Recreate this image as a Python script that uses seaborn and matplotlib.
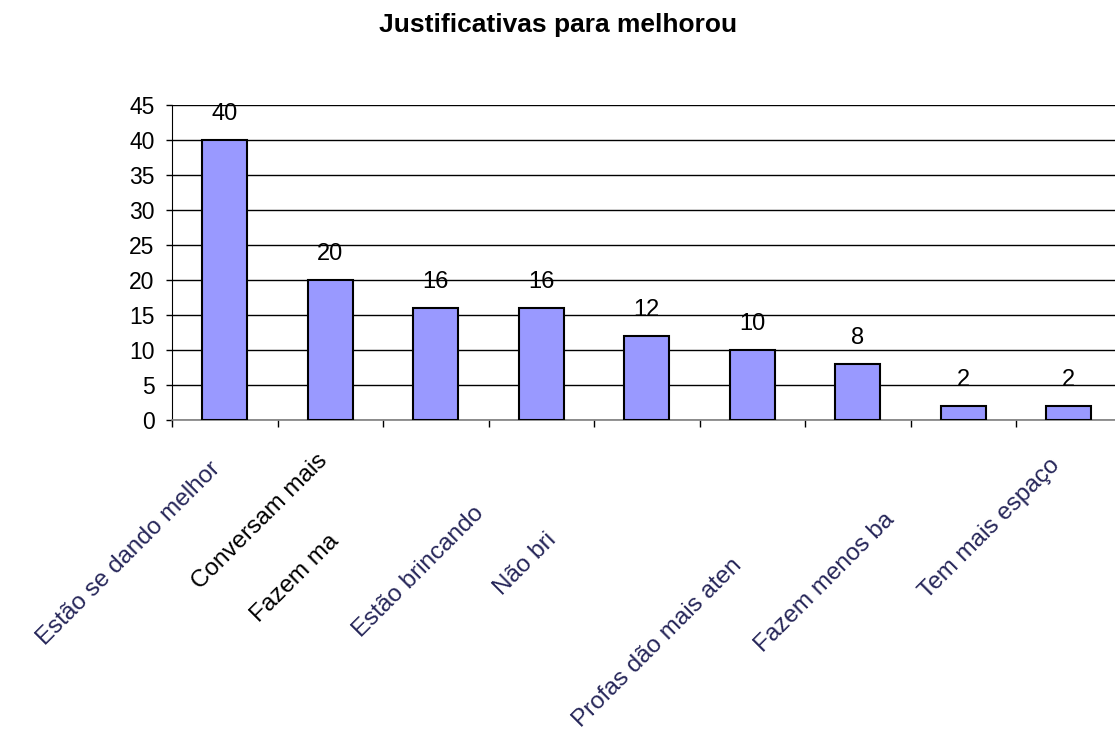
import pandas as pd
import seaborn as sns
import matplotlib.pyplot as plt
from matplotlib.transforms import ScaledTranslation

# dados do gráfico
categorias = ["Estão se dando melhor", "Conversam mais", "Fazem ma", "Estão brincando",
              "Não bri", "Profas dão mais aten", "Fazem menos ba", "Tem mais espaço", ""]
valores = [40, 20, 16, 16, 12, 10, 8, 2, 2]
titulo = "Justificativas para melhorou"

# deslocamento (px) do fim de cada rótulo do eixo x, como no original
desloc_x = [-8, -6, -100, -61, -94, -14, 33, 93, 0]
desloc_y = [46, 37, 118, 90, 117, 142, 96, 42, 0]
cores_rotulo = ["#262659", "black", "black", "#262659", "#262659",
                "#262659", "#262659", "#262659", "black"]


def desenhar():
    sns.set_style("white")
    plt.rcParams['font.family'] = ['Liberation Sans', 'DejaVu Sans']

    df = pd.DataFrame({"categoria": categorias, "valor": valores})

    fig = plt.figure(figsize=(11.15, 7.35), dpi=100)
    ax = fig.add_axes([172 / 1115, 1 - 420 / 735, 949.5 / 1115, 315 / 735])

    sns.barplot(data=df, x="categoria", y="valor", order=categorias, color="#9999FF",
                edgecolor="black", linewidth=1.5, width=0.43, saturation=1, ax=ax, zorder=3)

    ax.set_ylim(0, 45)
    ax.set_xlim(-0.5, len(categorias) - 0.5)
    ax.set_yticks(range(0, 46, 5))
    ax.yaxis.grid(True, color="black", linewidth=1)
    ax.set_axisbelow(True)
    ax.set_xlabel("")
    ax.set_ylabel("")

    for s in ["top", "right"]:
        ax.spines[s].set_visible(False)
    ax.spines["left"].set_color("black")
    ax.spines["bottom"].set_color("#808080")
    ax.spines["bottom"].set_linewidth(1.2)

    ax.tick_params(axis="y", direction="out", length=4.5, width=1, color="black",
                   labelsize=16.5, labelcolor="black", pad=8, left=True)
    # marcas entre categorias
    ax.set_xticks([i - 0.5 for i in range(len(categorias) + 1)], minor=True)
    ax.tick_params(axis="x", which="minor", direction="out", length=5, width=1,
                   color="black", bottom=True)
    ax.tick_params(axis="x", which="major", length=0, pad=0, labelsize=17.5)

    ax.set_xticks(range(len(categorias)))
    ax.set_xticklabels(categorias, rotation=45, ha="right", va="center",
                       rotation_mode="anchor")
    for lbl, dx, dy, c in zip(ax.get_xticklabels(), desloc_x, desloc_y, cores_rotulo):
        lbl.set_transform(lbl.get_transform() + ScaledTranslation(dx / 100, -dy / 100, fig.dpi_scale_trans))
        lbl.set_color(c)

    # valores acima das barras
    for i, v in enumerate(valores):
        ax.annotate(str(v), (i, v), xytext=(0, 11), textcoords="offset points",
                    ha="center", va="bottom", fontsize=17, color="black")

    fig.text(558 / 1115, 1 - 32 / 735, titulo, ha="center", va="baseline",
             fontsize=19, fontweight="bold", color="black")

    fig.savefig("out.png", dpi=100)


if __name__ == "__main__":
    desenhar()
